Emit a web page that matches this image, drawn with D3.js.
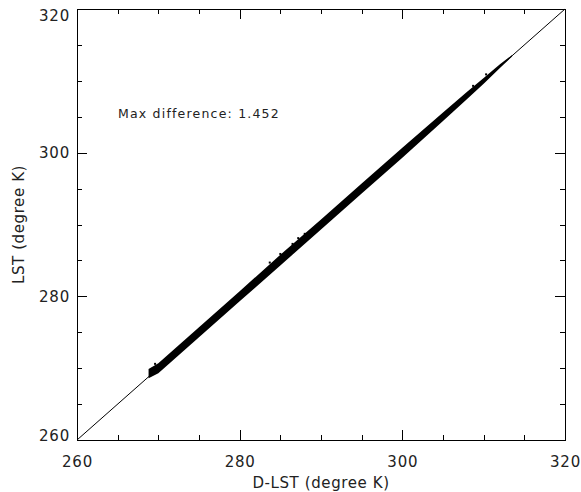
<!DOCTYPE html>
<html>
<head>
<meta charset="utf-8">
<script src="https://cdn.jsdelivr.net/npm/d3@7"></script>
<style>
  body { margin: 0; background: #fff; }
  text { font-family: "DejaVu Sans", sans-serif; fill: #222; }
</style>
</head>
<body>
<div class="fixed"></div>
<script>
// data (degree K)
var majorTicks = [260, 280, 300, 320];
var minorTicks = [265, 270, 275, 285, 290, 295, 305, 310, 315];
var oneToOne   = [260, 320];

// dense scatter band: D-LST and the lower / upper edge of LST
var bandX    = [268.8, 270.0, 275.0, 280.0, 285.0, 290.0, 295.0, 300.0, 305.0, 308.0, 310.0, 312.0, 313.5];
var bandLow  = [268.6, 269.3, 274.3, 279.3, 284.3, 289.3, 294.3, 299.3, 304.4, 307.5, 309.6, 311.8, 313.4];
var bandHigh = [269.9, 270.7, 275.7, 280.7, 285.8, 290.7, 295.7, 300.7, 305.6, 308.5, 310.4, 312.3, 313.6];

// scattered points just off the band
var outX = [283.7, 285.0, 286.5, 288.0, 308.7, 310.3, 287.2, 269.6];
var outY = [284.7, 285.9, 287.3, 288.7, 309.3, 310.9, 288.1, 270.6];

var maxDiff = "1.452";

var chart_width  = 581;
var chart_height = 492;
var pLeft = 77, pRight = 565, pTop = 9, pBottom = 440;

var svg = d3.select(".fixed")
    .append("svg")
    .attr("width", chart_width)
    .attr("height", chart_height);

var x_scale = d3.scaleLinear().domain([260, 320]).range([pLeft, pRight]);
var y_scale = d3.scaleLinear().domain([260, 320]).range([pBottom, pTop]);

var band = bandX.map(function(d, i){ return {x: d, lo: bandLow[i], hi: bandHigh[i]}; });

// band of points
svg.append("path")
    .datum(band)
    .attr("fill", "#000")
    .attr("d", d3.area()
        .x(function(d){ return x_scale(d.x); })
        .y0(function(d){ return y_scale(d.lo); })
        .y1(function(d){ return y_scale(d.hi); }));

svg.append("g")
    .selectAll("rect")
    .data(outX)
    .enter()
    .append("rect")
    .attr("x", function(d){ return x_scale(d) - 1; })
    .attr("y", function(d, i){ return y_scale(outY[i]) - 1; })
    .attr("width", 2)
    .attr("height", 2)
    .attr("fill", "#000");

// 1:1 line
svg.append("line")
    .attr("x1", x_scale(oneToOne[0]))
    .attr("y1", y_scale(oneToOne[0]))
    .attr("x2", x_scale(oneToOne[1]))
    .attr("y2", y_scale(oneToOne[1]))
    .attr("stroke", "#000")
    .attr("stroke-width", 1);

// axes, ticks inward on all four sides
function ticks(axis, t, size, fmt) {
    return axis.tickValues(t).tickSize(size).tickSizeOuter(0).tickFormat(fmt);
}
var noLabel = function(){ return ""; };

var xb = svg.append("g").attr("transform", "translate(0," + pBottom + ")");
xb.call(ticks(d3.axisBottom(x_scale), majorTicks, -10, d3.format("d")).tickPadding(16));
xb.append("g").call(ticks(d3.axisBottom(x_scale), minorTicks, -5, noLabel));

var xt = svg.append("g").attr("transform", "translate(0," + pTop + ")");
xt.call(ticks(d3.axisTop(x_scale), majorTicks, -10, noLabel));
xt.append("g").call(ticks(d3.axisTop(x_scale), minorTicks, -5, noLabel));

var yl = svg.append("g").attr("transform", "translate(" + pLeft + ",0)");
yl.call(ticks(d3.axisLeft(y_scale), majorTicks, -10, d3.format("d")).tickPadding(7));
yl.append("g").call(ticks(d3.axisLeft(y_scale), minorTicks, -5, noLabel));

var yr = svg.append("g").attr("transform", "translate(" + pRight + ",0)");
yr.call(ticks(d3.axisRight(y_scale), majorTicks, -10, noLabel));
yr.append("g").call(ticks(d3.axisRight(y_scale), minorTicks, -5, noLabel));

svg.selectAll(".domain").remove();
svg.selectAll(".tick line").attr("stroke", "#000").attr("shape-rendering", "crispEdges");
svg.selectAll(".tick text")
    .style("font-size", "15px")
    .style("letter-spacing", "0.8px")
    .attr("fill", "#222");

// end labels on the y axis are pulled inside the frame
yl.selectAll(".tick text")
    .attr("dy", function(d){ return d === 320 ? "0.75em" : d === 260 ? "0.05em" : "0.35em"; });

// frame
svg.append("rect")
    .attr("x", pLeft)
    .attr("y", pTop)
    .attr("width", pRight - pLeft)
    .attr("height", pBottom - pTop)
    .attr("fill", "none")
    .attr("stroke", "#000")
    .attr("shape-rendering", "crispEdges");

// titles
svg.append("text")
    .attr("x", (pLeft + pRight) / 2)
    .attr("y", 488)
    .style("text-anchor", "middle")
    .style("font-size", "15px")
    .style("letter-spacing", "0.6px")
    .text("D-LST (degree K)");

svg.append("text")
    .attr("transform", "translate(24," + ((pTop + pBottom) / 2) + ") rotate(-90)")
    .style("text-anchor", "middle")
    .style("font-size", "15px")
    .style("letter-spacing", "0.6px")
    .text("LST (degree K)");

svg.append("text")
    .attr("x", 118)
    .attr("y", 118)
    .style("font-size", "12.5px")
    .style("letter-spacing", "1.2px")
    .text("Max difference: " + maxDiff);
</script>
</body>
</html>
